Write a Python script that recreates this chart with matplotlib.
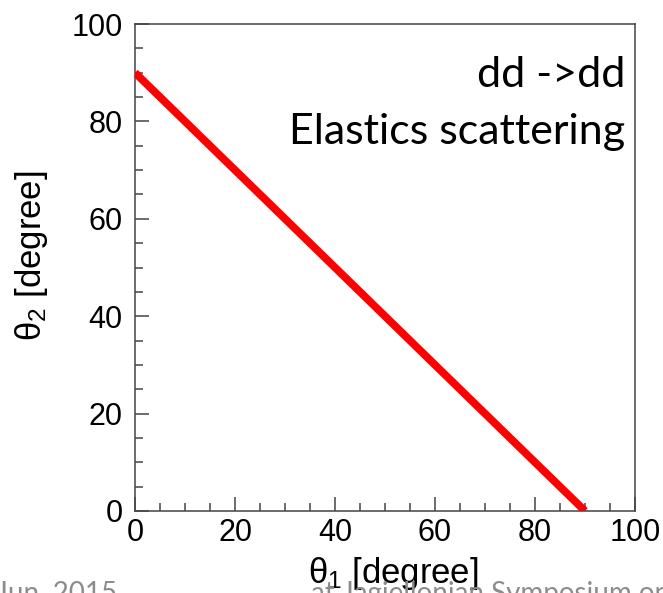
import matplotlib
matplotlib.use("Agg")
import matplotlib.pyplot as plt
from matplotlib.ticker import MultipleLocator

# Data (elastic dd -> dd: theta1 + theta2 ~ 90 deg)
theta1 = [0, 10, 20, 30, 40, 50, 60, 70, 80, 90]
theta2 = [90, 80, 70, 60, 50, 40, 30, 20, 10, 0]
xticks = [0, 20, 40, 60, 80, 100]
yticks = [0, 20, 40, 60, 80, 100]

plt.rcParams['mathtext.fontset'] = 'custom'
plt.rcParams['mathtext.rm'] = 'Liberation Sans'
plt.rcParams['mathtext.it'] = 'Liberation Sans'
plt.rcParams['mathtext.bf'] = 'Liberation Sans:bold'
plt.rcParams['font.family'] = ['Liberation Sans', 'DejaVu Sans']

W, H = 663, 593
fig = plt.figure(figsize=(W / 100, H / 100), dpi=100)
ax = fig.add_axes([135 / W, (H - 511) / H, 500 / W, 487 / H])

ax.plot(theta1, theta2, color='#ff0000', lw=5.6, solid_capstyle='butt', zorder=3)

ax.set_xlim(0, 100)
ax.set_ylim(0, 100)
ax.set_xticks(xticks)
ax.set_yticks(yticks)
ax.xaxis.set_minor_locator(MultipleLocator(5))
ax.yaxis.set_minor_locator(MultipleLocator(5))
ax.tick_params(which='both', direction='in', top=False, right=False,
               color='#444444', width=1.1)
ax.tick_params(which='major', length=10, labelsize=22)
ax.tick_params(which='minor', length=6)
ax.tick_params(axis='x', which='major', pad=5)
ax.tick_params(axis='y', which='major', pad=9)
for s in ax.spines.values():
    s.set_color('#444444')
    s.set_linewidth(1.1)

# Axis titles (ROOT style, placed toward the end of the axes)
fig.text(479 / W, 1 - 583 / H, r'$\theta_{1}$ [degree]', ha='right',
         va='baseline', fontsize=25)
fig.text(32 / W, 1 - 170 / H, r'$\theta_{2}$ [degree]', ha='center',
         va='top', rotation=90, fontsize=25)

# Annotation
ax.text(0.98, 0.871, 'dd ->dd', transform=ax.transAxes, ha='right',
        va='baseline', fontsize=31, family=['Lato', 'DejaVu Sans'])
ax.text(0.98, 0.754, 'Elastics scattering', transform=ax.transAxes,
        ha='right', va='baseline', fontsize=31, family=['Lato', 'DejaVu Sans'])

# Slide footer, cut off at the bottom edge
fig.text(-4 / W, 1 - 602 / H, 'Jun. 2015', ha='left', va='baseline',
         fontsize=20, color='#8c8c8c', family=['Lato', 'DejaVu Sans'])
fig.text(311 / W, 1 - 602 / H, 'at Jagiellonian Symposium on', ha='left',
         va='baseline', fontsize=20, color='#8c8c8c',
         family=['Lato', 'DejaVu Sans'])

fig.savefig('out.png', dpi=100)
